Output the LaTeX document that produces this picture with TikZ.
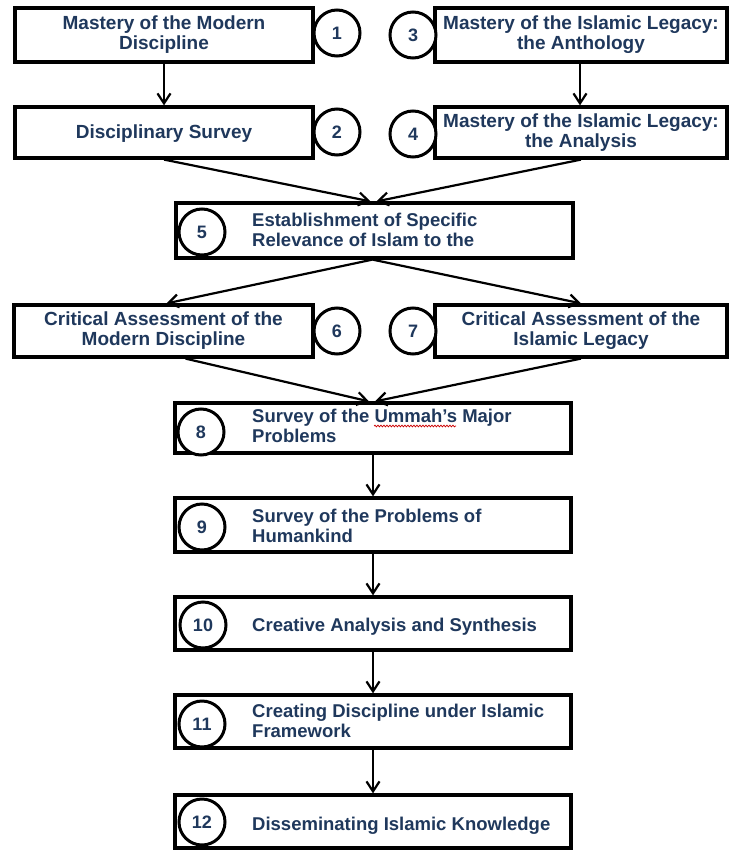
\documentclass[tikz,border=0pt]{standalone}
\usepackage{fontspec}
\setmainfont{Liberation Sans}
\usetikzlibrary{arrows.meta,decorations.pathmorphing,calc}
\definecolor{navy}{RGB}{31,56,92}
\begin{document}
\begin{tikzpicture}[x=1pt,y=-1pt,
  box/.style={draw=black,line width=3.2pt,fill=white,inner sep=0pt},
  toptxt/.style={text=navy,font=\bfseries\fontsize{19}{20}\selectfont,inner sep=0pt,align=center},
  lowtxt/.style={text=navy,font=\bfseries\fontsize{18.5}{20}\selectfont,inner sep=0pt,align=left,anchor=west},
  num/.style={circle,draw=black,line width=3pt,fill=white,minimum size=46pt,inner sep=0pt,text=navy,font=\bfseries\fontsize{18}{18}\selectfont},
  conn/.style={line width=2.2pt,-{Straight Barb[length=10pt,width=13pt,line width=2.2pt]}}]
\useasboundingbox (0,0) rectangle (728,851);
\fill[white] (0,0) rectangle (728,851);

% boxes
\node[box,minimum width=298pt,minimum height=54pt] (b1) at (164,35) {};
\node[box,minimum width=292pt,minimum height=54pt] (b3) at (581,35) {};
\node[box,minimum width=298pt,minimum height=51pt] (b2) at (164,132.5) {};
\node[box,minimum width=292pt,minimum height=51pt] (b4) at (581,132.5) {};
\node[box,minimum width=397pt,minimum height=55pt] (b5) at (374.5,230.5) {};
\node[box,minimum width=299pt,minimum height=52pt] (b6) at (163.5,331) {};
\node[box,minimum width=292pt,minimum height=52pt] (b7) at (581,331) {};
\node[box,minimum width=396pt,minimum height=50pt] (b8) at (373,428) {};
\node[box,minimum width=396pt,minimum height=54pt] (b9) at (373,525) {};
\node[box,minimum width=396pt,minimum height=53pt] (b10) at (373,623.5) {};
\node[box,minimum width=396pt,minimum height=53pt] (b11) at (373,721.5) {};
\node[box,minimum width=396pt,minimum height=53pt] (b12) at (373,821.5) {};

% texts
\node[toptxt] (t1) at (164,35) {Mastery of the Modern\\Discipline};
\node[toptxt] (t3) at (581,35) {Mastery of the Islamic Legacy:\\the Anthology};
\node[toptxt] (t2) at (164,134) {Disciplinary Survey};
\node[toptxt] (t4) at (581,132.5) {Mastery of the Islamic Legacy:\\the Analysis};
\node[lowtxt] (t5) at (252,230) {Establishment of Specific\\Relevance of Islam to the};
\node[toptxt] (t6) at (163.5,331) {Critical Assessment of the\\Modern Discipline};
\node[toptxt] (t7) at (581,331) {Critical Assessment of the\\Islamic Legacy};
\node[lowtxt] (t8) at (252,426) {Survey of the Ummah’s Major\\Problems};
\node[lowtxt] (t9) at (252,526) {Survey of the Problems of\\Humankind};
\node[lowtxt] (t10) at (252,627) {Creative Analysis and Synthesis};
\node[lowtxt] (t11) at (252,721) {Creating Discipline under Islamic\\Framework};
\node[lowtxt] (t12) at (252,826) {Disseminating Islamic Knowledge};

% spell-check squiggle under "Ummah's"
\draw[red!80!black,line width=0.7pt,decorate,decoration={snake,amplitude=0.9pt,segment length=3pt}] (374,426) -- (456,426);

% number circles
\node[num] (c1) at (337,33) {1};
\node[num] (c3) at (413,35) {3};
\node[num] (c2) at (337,132) {2};
\node[num] (c4) at (413,134) {4};
\node[num] (c5) at (202,232) {5};
\node[num] (c6) at (337,331) {6};
\node[num] (c7) at (413,331) {7};
\node[num] (c8) at (201,432) {8};
\node[num] (c9) at (202,527) {9};
\node[num] (c10) at (203,625) {10};
\node[num] (c11) at (202,724) {11};
\node[num] (c12) at (202,822) {12};

% connectors
\draw[conn] (b1.south) -- (b2.north);
\draw[conn] ([xshift=-1pt]b3.south) -- ([xshift=-1pt]b4.north);
\draw[conn] (b2.south) -- ([xshift=-4pt]b5.north);
\draw[conn] (b4.south) -- ([xshift=2pt]b5.north);
\draw[conn] ([xshift=-2pt]b5.south) -- ([xshift=3pt]b6.north);
\draw[conn] ([xshift=-2pt]b5.south) -- (b7.north);
\draw[conn] ([xshift=22pt]b6.south) -- ([xshift=-4pt]b8.north);
\draw[conn] (b7.south) -- ([xshift=2pt]b8.north);
\draw[conn] (b8.south) -- (b9.north);
\draw[conn] (b9.south) -- (b10.north);
\draw[conn] (b10.south) -- (b11.north);
\draw[conn] (b11.south) -- (b12.north);
\end{tikzpicture}
\end{document}
